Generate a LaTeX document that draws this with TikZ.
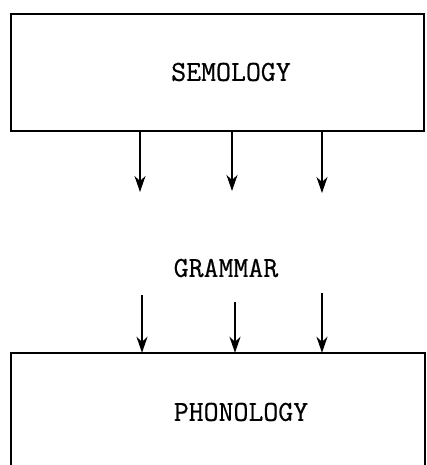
\documentclass[tikz,border=0pt]{standalone}
\usepackage{fontspec}
\setmonofont[FakeBold=0.6]{Latin Modern Mono}
\usetikzlibrary{arrows.meta}
\begin{document}
\begin{tikzpicture}[x=1pt,y=-1pt,
  boxline/.style={line width=2pt},
  arr/.style={line width=1.7pt,-{Stealth[length=16pt,width=11pt,inset=5pt]}},
  lbl/.style={font=\ttfamily\fontsize{29}{32}\selectfont,inner sep=0pt}]
\useasboundingbox (0,0) rectangle (426,465);
% top box
\node[boxline,draw,minimum width=413pt,minimum height=117pt,inner sep=0pt] (sem) at (217.5,72.5) {};
\node[lbl] (semlbl) at (231,72) {SEMOLOGY};
% grammar label
\node[lbl] (gram) at (226,268) {GRAMMAR};
% lower box (open at the bottom)
\node[minimum width=414pt,minimum height=120pt,inner sep=0pt] (phon) at (218,413) {};
\draw[boxline] (phon.south west) -- (phon.north west) -- (phon.north east) -- (phon.south east);
\node[lbl] (phonlbl) at (241,412) {PHONOLOGY};
% arrows from semology
\coordinate (e1) at (140,192);
\coordinate (e2) at (232,191);
\coordinate (e3) at (322,193);
\draw[arr] (sem.south -| e1) -- (e1);
\draw[arr] (sem.south -| e2) -- (e2);
\draw[arr] (sem.south -| e3) -- (e3);
% arrows into phonology
\coordinate (s1) at (142,295);
\coordinate (s2) at (235,302);
\coordinate (s3) at (322,293);
\draw[arr] (s1) -- (phon.north -| s1);
\draw[arr] (s2) -- (phon.north -| s2);
\draw[arr] (s3) -- (phon.north -| s3);
\end{tikzpicture}
\end{document}
